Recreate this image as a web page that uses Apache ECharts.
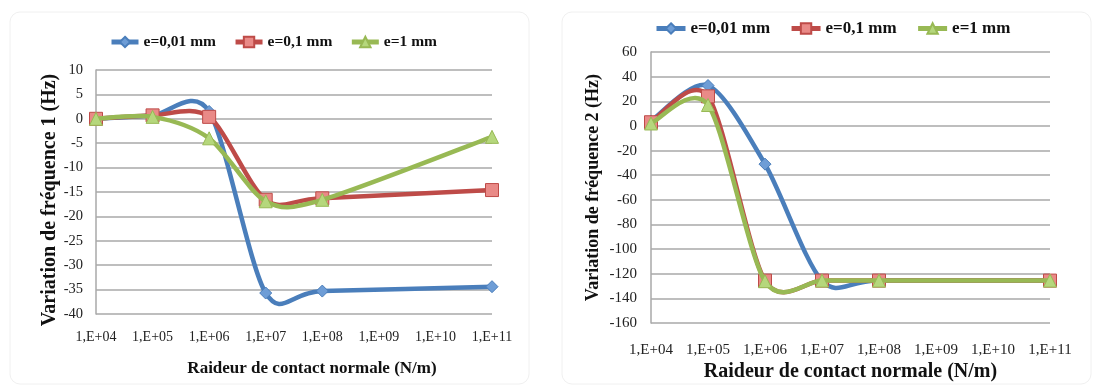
<!DOCTYPE html>
<html><head><meta charset="utf-8">
<script src="https://cdn.jsdelivr.net/npm/echarts@6/dist/echarts.min.js"></script>
<style>html,body{margin:0;padding:0;background:#fff}#c{width:1094px;height:387px}</style>
</head><body><div id="c"></div>
<script>
// ---- data ----
const stiffness = [1e4, 1e5, 1e6, 1e7, 1e8, 1e11];           // N/m
const seriesNames = ['e=0,01 mm', 'e=0,1 mm', 'e=1 mm'];
const freq1_e001 = [0, 0.7, 1.5, -35.7, -35.3, -34.4];
const freq1_e01  = [0, 0.7, 0.4, -16.6, -16.3, -14.6];
const freq1_e1   = [0, 0.4, -4.0, -16.9, -16.6, -3.7];
const freq2_e001 = [4, 32.8, -31, -125.5, -125.5, -125.5];
const freq2_e01  = [3, 24, -125.5, -125.5, -125.5, -125.5];
const freq2_e1   = [2, 17, -126, -125.5, -125.5, -125.5];
const xTickLabels = ['1,E+04','1,E+05','1,E+06','1,E+07','1,E+08','1,E+09','1,E+10','1,E+11'];
const yAxis1Range = [-40, 10, 5];
const yAxis2Range = [-160, 60, 20];

// ---- styling ----
const FONT = '"Liberation Serif", "Times New Roman", serif';
const lineColors = ['#4A7EBB', '#BE4B48', '#98B954'];
const markFill  = ['#6E9DD6', '#E98A87', '#B5D77C'];
const symbols   = ['diamond', 'rect', 'triangle'];
const symSizes  = [12, 13, 13];
const gridColor = '#a8a8a8';
const LW = 4.5;
const TENSION = 1 / 7;

function pair(ys){ return stiffness.map((x,i)=>[x, ys[i]]); }
function xLabel(v){ const e = Math.round(Math.log10(v)); return xTickLabels[e-4] || ''; }

// markers (and legend entries) through a line series
function markerSeries(idx, gi, ys){
  return {
    name: seriesNames[idx], type: 'line', xAxisIndex: gi, yAxisIndex: gi,
    data: pair(ys), symbol: symbols[idx], symbolSize: symSizes[idx], showAllSymbol: true,
    lineStyle: { color: lineColors[idx], width: 0 },
    itemStyle: { color: markFill[idx], borderColor: lineColors[idx], borderWidth: 1 },
    emphasis: { disabled: true }, animation: false, z: 3 + idx * 2
  };
}
// smoothed curve (Catmull-Rom in pixel space, like the spreadsheet's smoothed lines),
// positioned through the axes with api.coord
function curveSeries(idx, gi, ys){
  const pts = pair(ys);
  return {
    type: 'custom', coordinateSystem: 'cartesian2d', xAxisIndex: gi, yAxisIndex: gi,
    data: [pts[0]], encode: { x: 0, y: 1 }, silent: true, animation: false, z: 2 + idx * 2,
    renderItem: function(params, api){
      const p = pts.map(d => api.coord(d));
      const children = [];
      for (let i = 0; i < p.length - 1; i++){
        const p0 = p[i-1] || p[i], p1 = p[i], p2 = p[i+1], p3 = p[i+2] || p[i+1];
        children.push({
          type: 'bezierCurve',
          shape: {
            x1: p1[0], y1: p1[1], x2: p2[0], y2: p2[1],
            cpx1: p1[0] + (p2[0]-p0[0]) * TENSION, cpy1: p1[1] + (p2[1]-p0[1]) * TENSION,
            cpx2: p2[0] - (p3[0]-p1[0]) * TENSION, cpy2: p2[1] - (p3[1]-p1[1]) * TENSION
          },
          style: { fill: null, stroke: lineColors[idx], lineWidth: LW, lineCap: 'round' }
        });
      }
      return { type: 'group', children: children };
    }
  };
}

function mkX(gi, fs, margin, nameSize, nameGap, shift){
  return {
    type: 'log', logBase: 10, gridIndex: gi, min: 1e4, max: 1e11, interval: 1, splitNumber: 7,
    axisLine: { show: false }, axisTick: { show: false }, splitLine: { show: false },
    axisLabel: { formatter: xLabel, fontFamily: FONT, fontSize: fs, color: '#222', margin: margin },
    name: 'Raideur de contact normale (N/m)', nameLocation: 'middle', nameGap: nameGap,
    nameTextStyle: { fontFamily: FONT, fontWeight: 'bold', fontSize: nameSize, color: '#111', padding: [0,0,0,shift] }
  };
}
function mkY(gi, r, fs, margin, name, nameSize, nameGap, shift){
  return {
    type: 'value', gridIndex: gi, min: r[0], max: r[1], interval: r[2],
    axisLine: { show: true, lineStyle: { color: gridColor, width: 1.5 } }, axisTick: { show: false },
    splitLine: { show: true, lineStyle: { color: gridColor, width: 1.5 } },
    axisLabel: { fontFamily: FONT, fontSize: fs, color: '#222', margin: margin },
    name: name, nameLocation: 'middle', nameGap: nameGap, nameRotate: 90,
    nameTextStyle: { fontFamily: FONT, fontWeight: 'bold', fontSize: nameSize, color: '#111', padding: [0, shift, 0, 0] }
  };
}
function mkLegend(left, top, fs, iw, gap){
  return {
    left: left, top: top, padding: 0, itemWidth: iw, itemHeight: 13, itemGap: gap,
    data: seriesNames, selectedMode: false,
    lineStyle: { width: 5 },
    textStyle: { fontFamily: FONT, fontWeight: 'bold', fontSize: fs, color: '#111' }
  };
}

const chart = echarts.init(document.getElementById('c'), null, { renderer: 'canvas' });
chart.setOption({
  backgroundColor: '#fff',
  animation: false,
  graphic: [
    { type: 'rect', shape: { x: 10, y: 12, width: 519, height: 372, r: 10 }, style: { fill: 'none', stroke: '#f0f0f0', lineWidth: 1 }, z: -10 },
    { type: 'rect', shape: { x: 562, y: 12, width: 529, height: 372, r: 10 }, style: { fill: 'none', stroke: '#f0f0f0', lineWidth: 1 }, z: -10 }
  ],
  legend: [ mkLegend(109, 34, 15.5, 27, 17), mkLegend(654, 20, 17, 29, 19) ],
  grid: [
    { left: 96, top: 70, width: 396, height: 244 },
    { left: 651, top: 52, width: 399, height: 276 }
  ],
  xAxis: [ mkX(0, 14, 16, 17, 46, 36), mkX(1, 15, 19, 20, 38, 0) ],
  yAxis: [
    mkY(0, yAxis1Range, 14.5, 13, 'Variation de fréquence 1 (Hz)', 20, 35, 16),
    mkY(1, yAxis2Range, 15, 14, 'Variation de fréquence 2 (Hz)', 18, 49, 0)
  ],
  series: [
    curveSeries(0, 0, freq1_e001), markerSeries(0, 0, freq1_e001),
    curveSeries(1, 0, freq1_e01),  markerSeries(1, 0, freq1_e01),
    curveSeries(2, 0, freq1_e1),   markerSeries(2, 0, freq1_e1),
    curveSeries(0, 1, freq2_e001), markerSeries(0, 1, freq2_e001),
    curveSeries(1, 1, freq2_e01),  markerSeries(1, 1, freq2_e01),
    curveSeries(2, 1, freq2_e1),   markerSeries(2, 1, freq2_e1)
  ]
});
</script></body></html>
